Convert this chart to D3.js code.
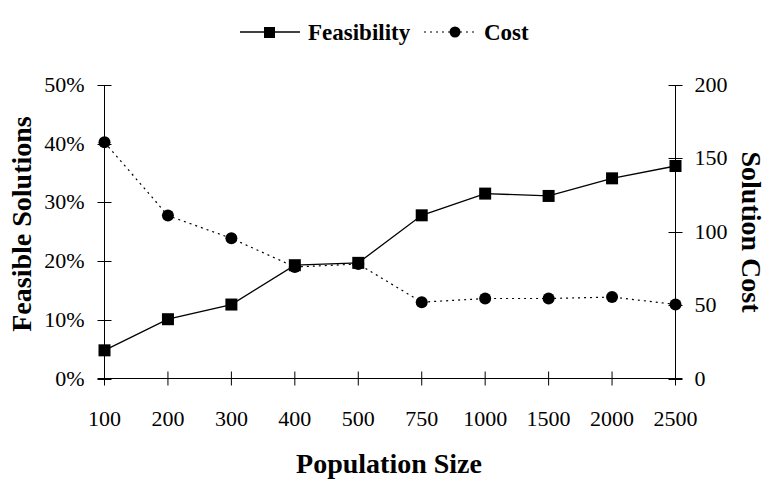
<!DOCTYPE html>
<html lang="en">
<head>
    <meta charset="UTF-8">
    <title>Feasibility and Cost</title>
    <script src="https://d3js.org/d3.v7.min.js"></script>
    <style>
        body { margin: 0; background: #fff; }
        svg text { font-family: "Liberation Serif", "Times New Roman", serif; fill: #000; }
        .tick-label { font-size: 22px; }
        .title { font-size: 28px; font-weight: bold; }
        .legend-text { font-size: 23px; font-weight: bold; }
    </style>
</head>
<body>
<div id="chart"></div>
<script>
    const categories = ["100", "200", "300", "400", "500", "750", "1000", "1500", "2000", "2500"];
    const feasibility = [4.8, 10.1, 12.6, 19.3, 19.7, 27.8, 31.5, 31.1, 34.1, 36.2];
    const cost = [161, 111, 95.5, 76, 78, 52, 54.5, 54.5, 55.5, 50.5];
    const leftTicks = [0, 10, 20, 30, 40, 50];
    const rightTicks = [0, 50, 100, 150, 200];

    const width = 770, height = 480;
    const x0 = 104.5, x1 = 675.5, yTop = 85, yBottom = 378.5;

    const svg = d3.select("#chart").append("svg")
        .attr("width", width)
        .attr("height", height);

    let x = d3.scalePoint().domain(categories).range([x0, x1]);
    let yLeft = d3.scaleLinear().domain([0, 50]).range([yBottom, yTop]);
    let yRight = d3.scaleLinear().domain([0, 200]).range([yBottom, yTop]);

    // axes: ticks cross the lines
    const tickHalf = 7;

    // left axis
    svg.append("line")
        .attr("x1", x0).attr("x2", x0)
        .attr("y1", yTop).attr("y2", yBottom)
        .attr("stroke", "#000");
    leftTicks.forEach(t => {
        svg.append("line")
            .attr("x1", x0 - tickHalf).attr("x2", x0 + tickHalf)
            .attr("y1", Math.round(yLeft(t)) + 0.5).attr("y2", Math.round(yLeft(t)) + 0.5)
            .attr("stroke", "#000");
        svg.append("text")
            .attr("class", "tick-label")
            .attr("x", x0 - 20)
            .attr("y", yLeft(t) + 7)
            .attr("text-anchor", "end")
            .text(t + "%");
    });

    // right axis
    svg.append("line")
        .attr("x1", x1).attr("x2", x1)
        .attr("y1", yTop).attr("y2", yBottom)
        .attr("stroke", "#000");
    rightTicks.forEach(t => {
        svg.append("line")
            .attr("x1", x1 - tickHalf).attr("x2", x1 + tickHalf)
            .attr("y1", Math.round(yRight(t)) + 0.5).attr("y2", Math.round(yRight(t)) + 0.5)
            .attr("stroke", "#000");
        svg.append("text")
            .attr("class", "tick-label")
            .attr("x", x1 + 19)
            .attr("y", yRight(t) + 7)
            .attr("text-anchor", "start")
            .text(t);
    });

    // bottom axis
    svg.append("line")
        .attr("x1", x0 - tickHalf).attr("x2", x1 + tickHalf)
        .attr("y1", yBottom).attr("y2", yBottom)
        .attr("stroke", "#000");
    categories.forEach(c => {
        svg.append("line")
            .attr("x1", x(c)).attr("x2", x(c))
            .attr("y1", yBottom - tickHalf).attr("y2", yBottom + tickHalf)
            .attr("stroke", "#000");
        svg.append("text")
            .attr("class", "tick-label")
            .attr("x", x(c))
            .attr("y", 426)
            .attr("text-anchor", "middle")
            .text(c);
    });

    // axis titles
    svg.append("text")
        .attr("class", "title")
        .attr("transform", "translate(31,224) rotate(-90)")
        .attr("text-anchor", "middle")
        .text("Feasible Solutions");
    svg.append("text")
        .attr("class", "title")
        .attr("transform", "translate(742,232) rotate(90)")
        .attr("text-anchor", "middle")
        .text("Solution Cost");
    svg.append("text")
        .attr("class", "title")
        .attr("x", 389)
        .attr("y", 473)
        .attr("text-anchor", "middle")
        .text("Population Size");

    // cost line (dotted)
    let costLine = d3.line()
        .x((d, i) => x(categories[i]))
        .y(d => yRight(d));
    svg.append("path")
        .datum(cost)
        .attr("d", costLine)
        .attr("fill", "none")
        .attr("stroke", "#000")
        .attr("stroke-width", 1.2)
        .attr("stroke-dasharray", "2,4");
    svg.selectAll("circle.cost")
        .data(cost)
        .enter()
        .append("circle")
        .attr("class", "cost")
        .attr("cx", (d, i) => x(categories[i]))
        .attr("cy", d => yRight(d))
        .attr("r", 6)
        .attr("fill", "#000");

    // feasibility line (solid)
    let feasLine = d3.line()
        .x((d, i) => x(categories[i]))
        .y(d => yLeft(d));
    svg.append("path")
        .datum(feasibility)
        .attr("d", feasLine)
        .attr("fill", "none")
        .attr("stroke", "#000")
        .attr("stroke-width", 1.3);
    svg.selectAll("rect.feas")
        .data(feasibility)
        .enter()
        .append("rect")
        .attr("class", "feas")
        .attr("x", (d, i) => x(categories[i]) - 6)
        .attr("y", d => yLeft(d) - 6)
        .attr("width", 12)
        .attr("height", 12)
        .attr("fill", "#000");

    // legend
    let legend = svg.append("g");
    legend.append("line")
        .attr("x1", 240).attr("x2", 300)
        .attr("y1", 32).attr("y2", 32)
        .attr("stroke", "#000").attr("stroke-width", 1.3);
    legend.append("rect")
        .attr("x", 264).attr("y", 27)
        .attr("width", 11).attr("height", 11)
        .attr("fill", "#000");
    legend.append("text")
        .attr("class", "legend-text")
        .attr("x", 308).attr("y", 40)
        .text("Feasibility");
    legend.append("line")
        .attr("x1", 424).attr("x2", 478)
        .attr("y1", 32).attr("y2", 32)
        .attr("stroke", "#000").attr("stroke-width", 1.2)
        .attr("stroke-dasharray", "2,4");
    legend.append("circle")
        .attr("cx", 455).attr("cy", 32).attr("r", 5.5)
        .attr("fill", "#000");
    legend.append("text")
        .attr("class", "legend-text")
        .attr("x", 484).attr("y", 40)
        .text("Cost");
</script>
</body>
</html>
